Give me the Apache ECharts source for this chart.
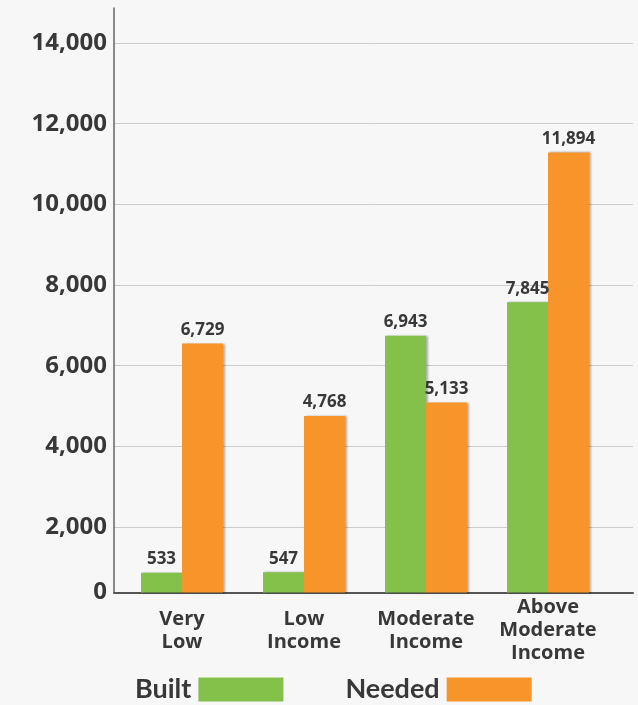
<!DOCTYPE html>
<html>
<head>
<meta charset="utf-8">
<script src="https://cdn.jsdelivr.net/npm/echarts@6/dist/echarts.min.js"></script>
<style>
  html, body { margin: 0; padding: 0; background: #f7f7f7; }
  #chart { width: 638px; height: 705px; }
</style>
</head>
<body>
<div id="chart"></div>
<script>
var categories = ['Very\nLow', 'Low\nIncome', 'Moderate\nIncome', 'Above\nModerate\nIncome'];
var built = [533, 547, 6943, 7845];
var needed = [6729, 4768, 5133, 11894];
var tickValues = [2000, 4000, 6000, 8000, 10000, 12000, 14000];

var FONT = 'Open Sans';
var TXT = '#383838';
var fmt = function (v) { return Number(v).toLocaleString('en-US'); };

var chart = echarts.init(document.getElementById('chart'));
var option = {
  backgroundColor: '#f7f7f7',
  animation: false,
  textStyle: { fontFamily: FONT },
  grid: [
    // frame: axis lines, grid lines, tick labels
    { left: 114, right: 5, top: 8, bottom: 112.5 },
    // bars
    { left: 121, right: 29, top: 8, bottom: 112.5 }
  ],
  legend: {
    left: 135,
    bottom: 2,
    padding: 0,
    align: 'right',
    icon: 'rect',
    itemWidth: 85,
    itemHeight: 24,
    itemGap: 62,
    textStyle: { fontFamily: 'Lato', fontSize: 27, fontWeight: 'bold', color: TXT, padding: [4, 2, 0, 0] },
    data: ['Built', 'Needed']
  },
  xAxis: [
    {
      gridIndex: 0, type: 'category', data: [''],
      axisLine: { show: true, lineStyle: { color: '#555', width: 2 } },
      axisTick: { show: false }, axisLabel: { show: false }
    },
    {
      gridIndex: 1, type: 'category', data: categories,
      axisLine: { show: false }, axisTick: { show: false },
      axisLabel: {
        interval: 0, hideOverlap: false,
        margin: 38, verticalAlign: 'middle', lineHeight: 23,
        fontFamily: FONT, fontSize: 20, fontWeight: 'bold', color: TXT
      }
    }
  ],
  yAxis: [
    {
      gridIndex: 0, type: 'value', min: 376, max: 14868,
      axisLine: { show: true, lineStyle: { color: '#666', width: 1.5 } },
      axisTick: { show: false, customValues: tickValues },
      axisLabel: {
        customValues: tickValues, margin: 7, formatter: fmt,
        fontFamily: FONT, fontSize: 24, fontWeight: 'bold', color: TXT
      },
      splitLine: { show: true, lineStyle: { color: '#cccccc', width: 1 } }
    },
    {
      gridIndex: 1, type: 'value', min: 0, max: 15800,
      axisLine: { show: false },
      axisTick: { show: false, customValues: [0] },
      splitLine: { show: false },
      axisLabel: {
        customValues: [0], margin: 14, formatter: fmt,
        fontFamily: FONT, fontSize: 24, fontWeight: 'bold', color: TXT
      }
    }
  ],
  series: [
    {
      name: 'Built', type: 'bar', xAxisIndex: 1, yAxisIndex: 1,
      data: built, barWidth: 41, barGap: '0%',
      itemStyle: { color: '#83c14a', shadowColor: 'rgba(0,0,0,0.3)', shadowBlur: 2, shadowOffsetX: 1.5 },
      label: {
        show: true, position: 'top', distance: 5, formatter: function (p) { return fmt(p.value); },
        fontFamily: FONT, fontSize: 17, fontWeight: 'bold', color: TXT
      }
    },
    {
      name: 'Needed', type: 'bar', xAxisIndex: 1, yAxisIndex: 1,
      data: needed, barWidth: 41, barGap: '0%',
      itemStyle: { color: '#f7952a', shadowColor: 'rgba(0,0,0,0.3)', shadowBlur: 2, shadowOffsetX: 1.5 },
      label: {
        show: true, position: 'top', distance: 5, formatter: function (p) { return fmt(p.value); },
        fontFamily: FONT, fontSize: 17, fontWeight: 'bold', color: TXT
      }
    }
  ]
};
chart.setOption(option);
</script>
</body>
</html>
